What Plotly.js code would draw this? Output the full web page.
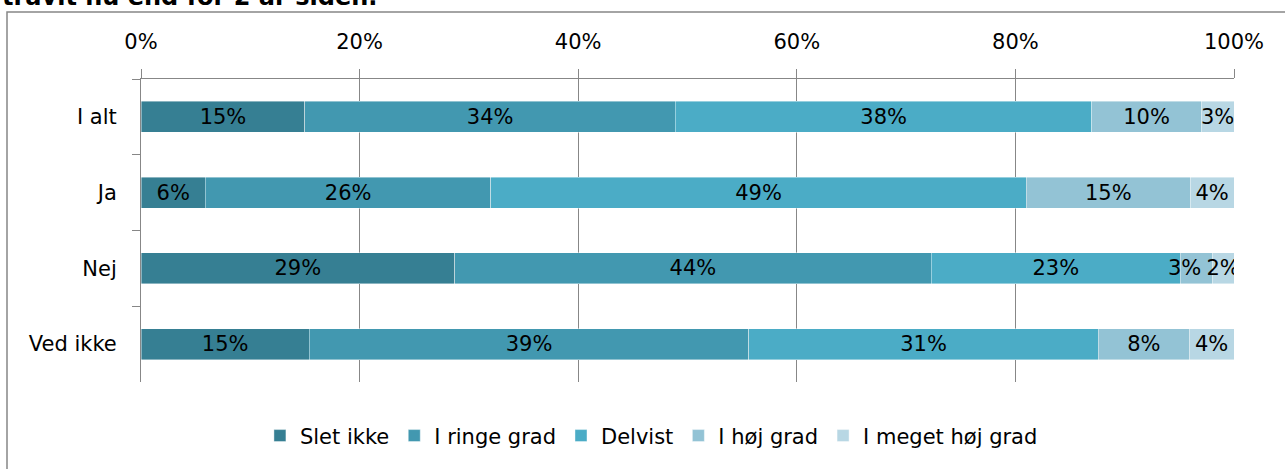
<!DOCTYPE html>
<html>
<head>
<meta charset="utf-8">
<script src="https://cdn.plot.ly/plotly-3.0.1.min.js"></script>
<style>
  html, body { margin: 0; padding: 0; background: #fff; }
  #chart { width: 1285px; height: 469px; }
</style>
</head>
<body>
<div id="chart"></div>
<script>
// Categories (top to bottom)
const categories = ["I alt", "Ja", "Nej", "Ved ikke"];

// Series names
const seriesNames = ["Slet ikke", "I ringe grad", "Delvist", "I høj grad", "I meget høj grad"];

// Values (% share) per series, in category order
const sletIkke      = [15.0,  5.9, 28.7, 15.4];
const iRingeGrad    = [33.9, 26.1, 43.6, 40.2];
const delvist       = [38.1, 49.0, 22.8, 32.0];
const iHoejGrad     = [10.0, 15.0,  2.9,  8.3];
const iMegetHoejGrad= [ 3.0,  4.0,  2.0,  4.1];

// Data labels as shown on the chart
const sletIkkeLabels       = ["15%", "6%", "29%", "15%"];
const iRingeGradLabels     = ["34%", "26%", "44%", "39%"];
const delvistLabels        = ["38%", "49%", "23%", "31%"];
const iHoejGradLabels      = ["10%", "15%", "3%", "8%"];
const iMegetHoejGradLabels = ["3%", "4%", "2%", "4%"];

// X tick values and labels
const xTickVals = [0, 20, 40, 60, 80, 100];
const xTickText = ["0%", "20%", "40%", "60%", "80%", "100%"];

const titleText = "travlt nu end for 2 år siden.";

const colors = ["#367f93", "#4298b0", "#4bacc6", "#93c3d5", "#b8d7e4"];
const seriesValues = [sletIkke, iRingeGrad, delvist, iHoejGrad, iMegetHoejGrad];
const seriesLabels = [sletIkkeLabels, iRingeGradLabels, delvistLabels, iHoejGradLabels, iMegetHoejGradLabels];

const FONT = "'DejaVu Sans', Verdana, sans-serif";
const FS = 21;

// Labels that Excel nudged sideways to avoid collisions (series index, category index, pixel shift)
const nudged = [{ s: 3, c: 2, shift: -12 }];
const isNudged = (s, c) => nudged.some(n => n.s === s && n.c === c);

const traces = seriesNames.map((name, i) => ({
  type: "bar",
  orientation: "h",
  name: name,
  y: categories,
  x: seriesValues[i],
  text: seriesLabels[i].map((t, c) => isNudged(i, c) ? "" : t),
  textposition: "inside",
  insidetextanchor: "middle",
  textangle: 0,
  constraintext: "none",
  textfont: { family: FONT, size: FS, color: "#000" },
  marker: { color: colors[i], line: { color: "rgba(255,255,255,0.6)", width: 0.7 } },
  hoverinfo: "skip"
}));

const nudgedAnnotations = nudged.map(n => {
  let start = 0;
  for (let k = 0; k < n.s; k++) start += seriesValues[k][n.c];
  return {
    x: start + seriesValues[n.s][n.c] / 2,
    y: categories[n.c],
    xref: "x", yref: "y",
    text: seriesLabels[n.s][n.c],
    showarrow: false,
    xshift: n.shift,
    font: { family: FONT, size: FS, color: "#000" }
  };
});

const layout = {
  width: 1285,
  height: 469,
  margin: { l: 141, r: 51, t: 79, b: 87, pad: 0 },
  paper_bgcolor: "#fff",
  plot_bgcolor: "#fff",
  barmode: "stack",
  bargap: 0.59,
  font: { family: FONT, size: FS, color: "#000" },
  showlegend: true,
  legend: {
    orientation: "h",
    x: 0.467, xanchor: "center",
    y: -0.178, yanchor: "middle",
    font: { family: FONT, size: FS, color: "#000" },
    traceorder: "normal",
    itemwidth: 30,
    tracegroupgap: 0
  },
  xaxis: {
    side: "top",
    range: [0, 100],
    tickmode: "array",
    tickvals: xTickVals,
    ticktext: xTickText,
    showgrid: true,
    gridcolor: "#878787",
    gridwidth: 1,
    showline: true,
    linecolor: "#878787",
    linewidth: 1,
    ticks: "outside",
    ticklen: 9,
    tickcolor: "#878787",
    tickwidth: 1,
    ticklabelstandoff: 12,
    zeroline: false,
    fixedrange: true
  },
  yaxis: {
    type: "category",
    categoryorder: "array",
    categoryarray: categories,
    autorange: "reversed",
    showgrid: false,
    showline: true,
    linecolor: "#878787",
    linewidth: 1,
    ticks: "outside",
    tickson: "boundaries",
    ticklen: 8,
    tickcolor: "#878787",
    tickwidth: 1,
    ticklabelstandoff: 19,
    zeroline: false,
    fixedrange: true
  },
  shapes: [
    {
      type: "rect", xref: "paper", yref: "paper",
      x0: (7 - 141) / 1093, x1: (1300 - 141) / 1093,
      y0: (382 - 480) / 303, y1: (382 - 12) / 303,
      line: { color: "#878787", width: 1.5 },
      fillcolor: "rgba(0,0,0,0)",
      layer: "below"
    }
  ],
  annotations: [
    {
      text: "<b>" + titleText + "</b>",
      xref: "paper", yref: "paper",
      x: (0 - 141) / 1093, xanchor: "left",
      y: (382 - 13) / 303, yanchor: "bottom",
      showarrow: false,
      font: { family: FONT, size: 24, color: "#000" }
    }
  ].concat(nudgedAnnotations)
};

Plotly.newPlot("chart", traces, layout, { displayModeBar: false, staticPlot: true });
</script>
</body>
</html>
